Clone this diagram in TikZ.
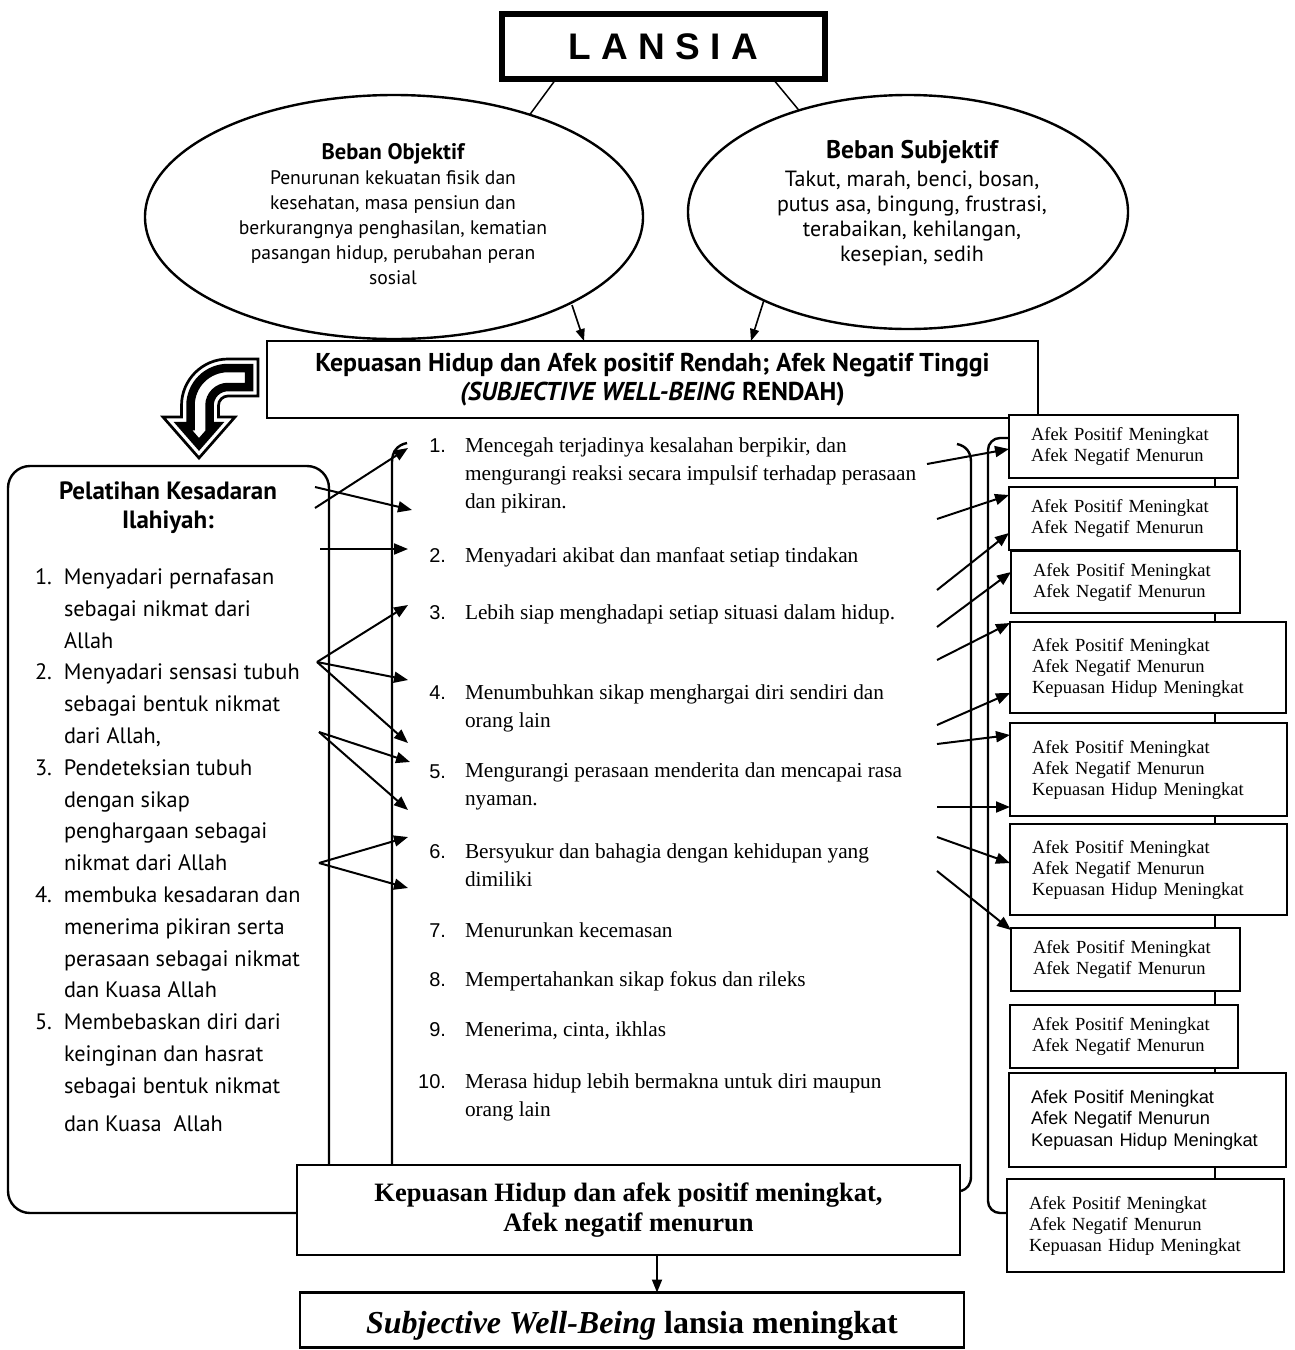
\documentclass[tikz,border=0pt]{standalone}
\usepackage{fontspec}
\setmainfont{Liberation Serif}
\newfontfamily\arialf{Liberation Sans}
\newfontfamily\gillf{PT Sans}
\usetikzlibrary{arrows.meta,shapes.geometric,calc}
\newcommand{\fsz}[2]{\fontsize{#1pt}{#2pt}\selectfont}
\begin{document}
\begin{tikzpicture}[x=1pt,y=-1pt,
  every node/.style={inner sep=0pt,outer sep=0pt},
  lw/.style={line width=2.4pt},
  arr/.style={line width=2pt,-{Triangle[length=14pt,width=11pt]}},
  sarr/.style={line width=1.6pt,-{Triangle[length=12pt,width=9pt]}},
  rbox/.style={draw,line width=2.4pt,fill=white,anchor=north west,align=left,inner xsep=22pt},
  tms/.style={font=\fsz{18.5}{21}},
  ari/.style={font=\arialf\fsz{18.3}{21.5}},
  itemtext/.style={font=\fsz{21.3}{28},align=left},
  num/.style={anchor=base east,font=\arialf\fsz{20}{24}},
]
\useasboundingbox (0,0) rectangle (1295,1350);

% ---------- top: LANSIA and ellipses ----------
\node[draw,ellipse,line width=2.4pt,minimum width=498pt,minimum height=244pt] (obj) at (394,217) {};
\node[draw,ellipse,line width=2.4pt,minimum width=440pt,minimum height=234pt] (subj) at (908,212) {};
\node[align=center,font=\gillf\fsz{19.6}{25}] (objt) at (393,214.5)
  {{\bfseries\fsz{22.5}{25}Beban Objektif}\\Penurunan kekuatan fisik dan\\kesehatan, masa pensiun dan\\berkurangnya penghasilan, kematian\\pasangan hidup, perubahan peran\\sosial};
\node[align=center,font=\gillf\fsz{22}{25}] (subjt) at (912,203)
  {{\bfseries\fsz{25.5}{25}Beban Subjektif}\\[3pt]Takut, marah, benci, bosan,\\putus asa, bingung, frustrasi,\\terabaikan, kehilangan,\\kesepian, sedih};

\node[draw,line width=6pt,minimum width=323pt,minimum height=65pt,font=\arialf\bfseries\fsz{37}{40}] (lansia) at (663.5,46.5) {L A N S I A};
\draw[line width=1.5pt] ([xshift=54pt]lansia.south west) -- (obj.37);
\draw[line width=1.5pt] ([xshift=271pt]lansia.south west) -- (subj.137);

% ---------- low SWB box ----------
\node[draw,line width=2.4pt,minimum width=771pt,minimum height=77pt,align=center,font=\gillf\bfseries\fsz{25.8}{29}] (top) at (652.5,379.5)
  {Kepuasan Hidup dan Afek positif Rendah; Afek Negatif Tinggi\\\textit{(SUBJECTIVE WELL-BEING} RENDAH)};
\coordinate (eo) at (572,305);
\coordinate (es) at (764,300);
\draw[sarr] (eo) -- ([xshift=317pt]top.north west);
\draw[sarr] (es) -- ([xshift=484pt]top.north west);

% ---------- big striped turning arrow ----------
\draw[line width=2.7pt,fill=white,line join=miter]
  (258,359) -- (228,359) arc[start angle=270,end angle=180,radius=46.5] -- (181.5,417) -- (163,417)
  -- (199,458) -- (235,417) -- (218.5,417) -- (218.5,405.5) arc[start angle=180,end angle=270,radius=9.5]
  -- (258,396) -- cycle;
\draw[line width=8.5pt,line join=miter]
  (249,368) -- (228,368) arc[start angle=270,end angle=180,radius=37.5] -- (190.5,426) -- (182.9,426)
  -- (199,444.4) -- (215.1,426) -- (209.5,426) -- (209.5,405.5) arc[start angle=180,end angle=270,radius=18.5]
  -- (249,387) -- cycle;

% ---------- left box ----------
\node[draw,line width=2.4pt,rounded corners=22pt,minimum width=321pt,minimum height=747pt] (lbox) at (168.5,839.5) {};
\node[align=center,font=\gillf\bfseries\fsz{25}{29}] (ltitle) at (168,507.5) {Pelatihan Kesadaran\\Ilahiyah:};
\node[anchor=west,align=left,font=\gillf\fsz{22.3}{31.8}] (llist) at (35,850) {%
\makebox[29pt][l]{1.}Menyadari pernafasan\\
\hspace*{29pt}sebagai nikmat dari\\
\hspace*{29pt}Allah\\
\makebox[29pt][l]{2.}Menyadari sensasi tubuh\\
\hspace*{29pt}sebagai bentuk nikmat\\
\hspace*{29pt}dari Allah,\\
\makebox[29pt][l]{3.}Pendeteksian tubuh\\
\hspace*{29pt}dengan sikap\\
\hspace*{29pt}penghargaan sebagai\\
\hspace*{29pt}nikmat dari Allah\\
\makebox[29pt][l]{4.}membuka kesadaran dan\\
\hspace*{29pt}menerima pikiran serta\\
\hspace*{29pt}perasaan sebagai nikmat\\
\hspace*{29pt}dan Kuasa Allah\\
\makebox[29pt][l]{5.}Membebaskan diri dari\\
\hspace*{29pt}keinginan dan hasrat\\
\hspace*{29pt}sebagai bentuk nikmat\\[6pt]
\hspace*{29pt}dan Kuasa\ \ Allah};

% ---------- brackets ----------
\draw[lw] (407,443) .. controls (397,445) and (392,452) .. (392,462) -- (392,1165);
\draw[lw] (957,444) .. controls (966,446) and (971,452) .. (971,462) -- (971,1176) .. controls (971,1185) and (967,1189) .. (961,1191);

% ---------- middle list ----------
\node[num] (n1) at (446,452) {1.};
\node[itemtext,anchor=west] (l1) at (465,475) {Mencegah terjadinya kesalahan berpikir, dan\\mengurangi reaksi secara impulsif terhadap perasaan\\dan pikiran.};
\node[num] (n2) at (446,562) {2.};
\node[itemtext,anchor=base west] (l2) at (465,562) {Menyadari akibat dan manfaat setiap tindakan};
\node[num] (n3) at (446,619) {3.};
\node[itemtext,anchor=base west] (l3) at (465,619) {Lebih siap menghadapi setiap situasi dalam hidup.};
\node[num] (n4) at (446,699) {4.};
\node[itemtext,anchor=west] (l4) at (465,708) {Menumbuhkan sikap menghargai diri sendiri dan\\orang lain};
\node[num] (n5) at (446,778) {5.};
\node[itemtext,anchor=west] (l5) at (465,786.5) {Mengurangi perasaan menderita dan mencapai rasa\\nyaman.};
\node[num] (n6) at (446,858) {6.};
\node[itemtext,anchor=west] (l6) at (465,865.5) {Bersyukur dan bahagia dengan kehidupan yang\\dimiliki};
\node[num] (n7) at (446,937) {7.};
\node[itemtext,anchor=base west] (l7) at (465,937) {Menurunkan kecemasan};
\node[num] (n8) at (446,986) {8.};
\node[itemtext,anchor=base west] (l8) at (465,986) {Mempertahankan sikap fokus dan rileks};
\node[num] (n9) at (446,1036) {9.};
\node[itemtext,anchor=base west] (l9) at (465,1036) {Menerima, cinta, ikhlas};
\node[num] (n10) at (446,1088) {10.};
\node[itemtext,anchor=west] (l10) at (465,1097) {Merasa hidup lebih bermakna untuk diri maupun\\orang lain};

% ---------- right boxes ----------
\node[rbox,tms,text width=185pt,minimum height=63pt] (r1) at (1009,415) {Afek Positif Meningkat\\Afek Negatif Menurun};
\node[rbox,tms,text width=184pt,minimum height=63pt] (r2) at (1009,487) {Afek Positif Meningkat\\Afek Negatif Menurun};
\node[rbox,tms,text width=185pt,minimum height=62pt] (r3) at (1011,551) {Afek Positif Meningkat\\Afek Negatif Menurun};
\node[rbox,tms,text width=232pt,minimum height=91pt] (r4) at (1010,622) {Afek Positif Meningkat\\Afek Negatif Menurun\\Kepuasan Hidup Meningkat};
\node[rbox,tms,text width=233pt,minimum height=93pt] (r5) at (1010,723) {Afek Positif Meningkat\\Afek Negatif Menurun\\Kepuasan Hidup Meningkat};
\node[rbox,tms,text width=233pt,minimum height=91pt] (r6) at (1010,824) {Afek Positif Meningkat\\Afek Negatif Menurun\\Kepuasan Hidup Meningkat};
\node[rbox,tms,text width=185pt,minimum height=63pt] (r7) at (1011,928) {Afek Positif Meningkat\\Afek Negatif Menurun};
\node[rbox,tms,text width=184pt,minimum height=63pt] (r8) at (1010,1005) {Afek Positif Meningkat\\Afek Negatif Menurun};
\node[rbox,ari,text width=233pt,minimum height=94pt] (r9) at (1009,1073) {Afek Positif Meningkat\\Afek Negatif Menurun\\Kepuasan Hidup Meningkat};
\node[rbox,tms,text width=233pt,minimum height=93pt] (r10) at (1007,1179) {Afek Positif Meningkat\\Afek Negatif Menurun\\Kepuasan Hidup Meningkat};

\coordinate (X) at (1215,0);
\foreach \a/\b in {r1/r2,r3/r4,r4/r5,r5/r6,r6/r7,r7/r8,r8/r9,r9/r10}
  \draw[lw] (\a.south west -| X) -- (\b.north west -| X);
\draw[lw,rounded corners=12pt] ([yshift=-23pt]r1.north west) -| (988,1213) -- ([yshift=-34pt]r10.north west);

% ---------- arrows from middle list to right boxes ----------
\coordinate (s1) at (927,464);
\coordinate (s2) at (937,519);
\coordinate (s3) at (937,590);
\coordinate (s4) at (937,627);
\coordinate (s5) at (937,660);
\coordinate (s6) at (937,725);
\coordinate (s7) at (937,744);
\coordinate (s8) at (937,807);
\coordinate (s9) at (937,837);
\coordinate (s10) at (937,871);
\draw[arr] (s1) -- ([yshift=-34pt]r1.north west);
\draw[arr] (s2) -- ([yshift=-8pt]r2.north west);
\draw[arr] (s3) -- ([yshift=-46pt]r2.north west);
\draw[arr] (s4) -- ([yshift=-21pt]r3.north west);
\draw[arr] (s5) -- ([yshift=-1pt]r4.north west);
\draw[arr] (s6) -- ([yshift=-71pt]r4.north west);
\draw[arr] (s7) -- ([yshift=-12pt]r5.north west);
\draw[arr] (s8) -- ([yshift=-84pt]r5.north west);
\draw[arr] (s9) -- ([yshift=-39pt]r6.north west);
\draw[arr] (s10) -- ([yshift=-2pt]r7.north west);

% ---------- arrows from left box to middle list ----------
\coordinate (pa) at (315,508);
\coordinate (pb) at (315,487);
\coordinate (pc) at (320,549);
\coordinate (pd) at (317,662);
\coordinate (pe) at (319,732);
\coordinate (pf) at (319,863);
\coordinate (ta) at (408,448);
\coordinate (tb) at (412,510);
\coordinate (tc) at (408,549);
\coordinate (td) at (408,605);
\coordinate (te) at (408,680);
\coordinate (tf) at (408,743);
\coordinate (tg) at (410,762);
\coordinate (th) at (408,810);
\coordinate (ti) at (408,837);
\coordinate (tj) at (408,888);
\draw[arr] (pa) -- (ta);
\draw[arr] (pb) -- (tb);
\draw[arr] (pc) -- (tc);
\draw[arr] (pd) -- (td);
\draw[arr] (pd) -- (te);
\draw[arr] (pd) -- (tf);
\draw[arr] (pe) -- (tg);
\draw[arr] (pe) -- (th);
\draw[arr] (pf) -- (ti);
\draw[arr] (pf) -- (tj);

% ---------- bottom boxes ----------
\node[draw,fill=white,lw,minimum width=663pt,minimum height=90pt,align=center,font=\bfseries\fsz{26.5}{30}] (bot) at (628.5,1210)
  {Kepuasan Hidup dan afek positif meningkat,\\Afek negatif menurun};
\node[draw,lw,minimum width=664pt,minimum height=55pt] (swb) at (632,1320) {};
\node[anchor=base,font=\bfseries\fsz{32}{34}] (swbt) at (632,1333) {\textit{Subjective Well-Being} lansia meningkat};
\draw[line width=1.8pt,-{Triangle[length=13pt,width=10pt]}] ([xshift=28.5pt]bot.south) -- ([xshift=25pt]swb.north);
\end{tikzpicture}
\end{document}
